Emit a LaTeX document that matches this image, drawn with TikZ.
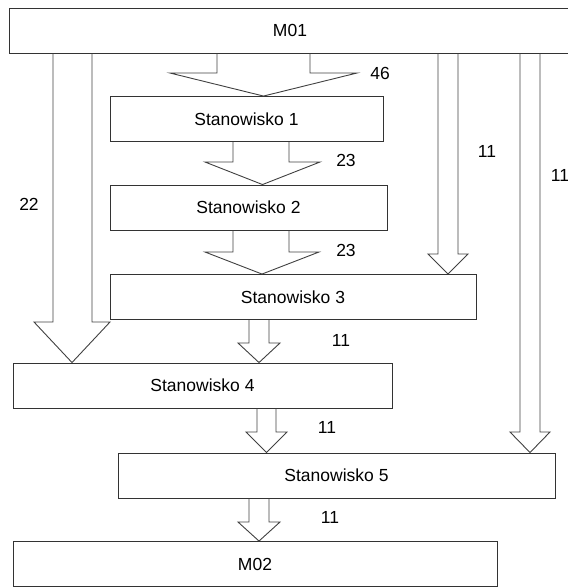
\documentclass[tikz,border=0pt]{standalone}
\usepackage{fontspec}
\setmainfont{Liberation Sans}
\begin{document}
\begin{tikzpicture}[x=1pt,y=-1pt,
  box/.style={draw=black!80,line width=0.9pt,rectangle,inner sep=0pt,minimum height=45pt,font=\fontsize{17.5}{20}\selectfont},
  arr/.style={draw=black!75,line width=0.9pt,line join=miter},
  lbl/.style={inner sep=0pt,font=\fontsize{17.5}{20}\selectfont}]
\useasboundingbox (0,0) rectangle (568,587);
\newcommand{\barrow}[8]{%
  \draw[arr] (#3,0 |- #1.south) -- (#3,#7) -- (#5,#7) -- (#8,0 |- #2.north) -- (#6,#7) -- (#4,#7) -- (#4,0 |- #1.south);}
\node[box,minimum width=562pt] (m01) at (290,30.5) {M01};
\node[box,minimum width=273pt] (s1) at (246.5,119) {Stanowisko 1};
\node[box,minimum width=277pt] (s2) at (248.5,207.5) {Stanowisko 2};
\node[box,minimum width=366pt] (s3) at (293,297) {Stanowisko 3};
\node[box,minimum width=379pt] (s4) at (202.5,385.5) {Stanowisko 4};
\node[box,minimum width=437pt] (s5) at (336.5,475.5) {Stanowisko 5};
\node[box,minimum width=484pt] (m02) at (255,564) {M02};
% block arrows
\barrow{m01}{s1}{217}{310}{170}{357}{73}{263.5}
\barrow{s1}{s2}{233}{289}{205}{320}{162}{262.5}
\barrow{s2}{s3}{233}{289}{205}{319}{252}{262}
\barrow{m01}{s3}{438}{458}{428}{468}{254}{448}
\barrow{m01}{s5}{520}{540}{510}{550}{432}{530}
\barrow{m01}{s4}{53}{92}{34}{110}{322}{72}
\barrow{s3}{s4}{249}{269}{238}{280}{343}{259}
\barrow{s4}{s5}{257}{276}{246}{287}{432}{266.5}
\barrow{s5}{m02}{249}{269}{238}{280}{522}{259}
% labels
\node[lbl] (l46) at (380,73) {46};
\node[lbl] (l23a) at (346,160) {23};
\node[lbl] (l23b) at (346,250) {23};
\node[lbl] (l11a) at (487,151) {11};
\node[lbl] (l11b) at (560,175) {11};
\node[lbl] (l22) at (29,204) {22};
\node[lbl] (l11c) at (341,340) {11};
\node[lbl] (l11d) at (327,427) {11};
\node[lbl] (l11e) at (330,517) {11};
\end{tikzpicture}
\end{document}
